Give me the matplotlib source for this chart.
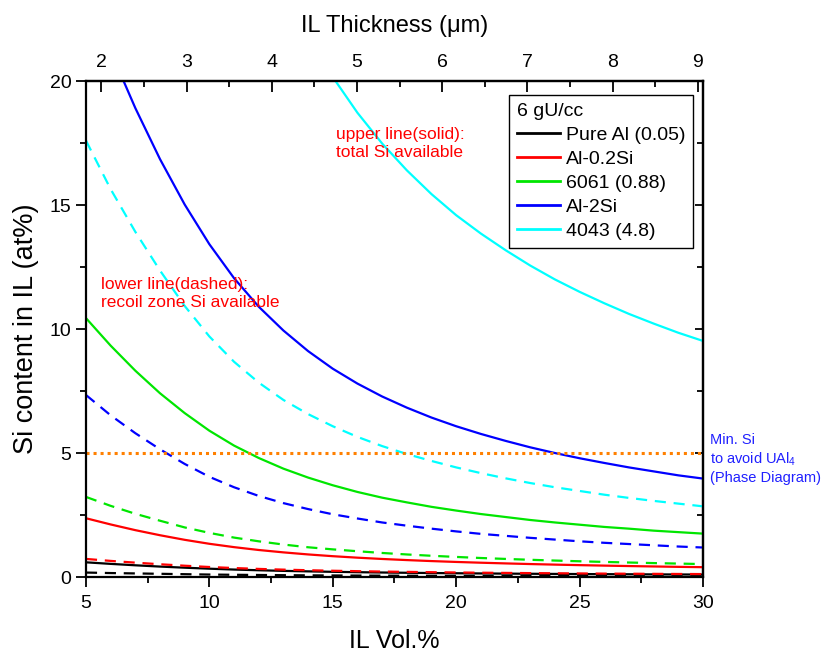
import matplotlib
matplotlib.use("Agg")
import matplotlib.pyplot as plt
from matplotlib.ticker import MultipleLocator

plt.rcParams['font.family'] = ['Liberation Sans', 'DejaVu Sans']
plt.rcParams['mathtext.fontset'] = 'custom'
plt.rcParams['mathtext.rm'] = 'Liberation Sans'
plt.rcParams['mathtext.it'] = 'Liberation Sans:italic'

# IL Vol.% (bottom axis)
vol = [5, 6, 7, 8, 9, 10, 11, 12, 13, 14, 15, 16, 17, 18, 19, 20, 21, 22, 23, 24, 25, 26, 27, 28, 29, 30]

# upper line (solid): total Si available, at%
pure_al_total = [0.593, 0.53, 0.473, 0.421, 0.376, 0.336, 0.301, 0.273, 0.248, 0.228, 0.21, 0.195, 0.182,
                 0.171, 0.161, 0.152, 0.144, 0.137, 0.131, 0.125, 0.12, 0.115, 0.111, 0.106, 0.103, 0.099]
al02si_total = [2.37, 2.12, 1.89, 1.685, 1.50, 1.34, 1.205, 1.09, 0.994, 0.911, 0.84, 0.78, 0.728,
                0.683, 0.643, 0.608, 0.577, 0.549, 0.523, 0.5, 0.479, 0.46, 0.442, 0.426, 0.41, 0.397]
al6061_total = [10.44, 9.33, 8.32, 7.41, 6.61, 5.90, 5.30, 4.80, 4.37, 4.01, 3.70, 3.43, 3.20,
                3.01, 2.83, 2.68, 2.54, 2.42, 2.30, 2.20, 2.11, 2.02, 1.95, 1.87, 1.81, 1.75]
al2si_total = [23.72, 21.2, 18.91, 16.85, 15.02, 13.42, 12.05, 10.9, 9.94, 9.11, 8.4, 7.8, 7.28,
               6.83, 6.43, 6.08, 5.77, 5.49, 5.23, 5.0, 4.79, 4.6, 4.42, 4.26, 4.10, 3.97]
al4043_total = [56.9, 50.9, 45.4, 40.4, 36.1, 32.2, 28.9, 26.2, 23.9, 21.9, 20.16, 18.72, 17.48,
                16.4, 15.44, 14.59, 13.85, 13.18, 12.56, 12.0, 11.5, 11.04, 10.61, 10.22, 9.85, 9.52]

# lower line (dashed): recoil zone Si available, at%
pure_al_recoil = [0.18, 0.16, 0.145, 0.13, 0.114, 0.10, 0.09, 0.082, 0.074, 0.068, 0.063, 0.059, 0.055,
                  0.052, 0.049, 0.046, 0.044, 0.042, 0.04, 0.038, 0.036, 0.035, 0.033, 0.032, 0.031, 0.03]
al02si_recoil = [0.73, 0.65, 0.58, 0.515, 0.456, 0.404, 0.362, 0.327, 0.298, 0.274, 0.253, 0.236, 0.22,
                 0.207, 0.195, 0.184, 0.174, 0.166, 0.158, 0.151, 0.144, 0.138, 0.133, 0.128, 0.123, 0.119]
al6061_recoil = [3.23, 2.87, 2.55, 2.27, 2.00, 1.78, 1.59, 1.44, 1.31, 1.20, 1.115, 1.04, 0.97,
                 0.91, 0.857, 0.81, 0.767, 0.73, 0.695, 0.664, 0.635, 0.609, 0.585, 0.562, 0.542, 0.522]
al2si_recoil = [7.34, 6.52, 5.80, 5.15, 4.56, 4.04, 3.62, 3.27, 2.98, 2.74, 2.53, 2.36, 2.20,
                2.07, 1.95, 1.84, 1.74, 1.66, 1.58, 1.51, 1.44, 1.38, 1.33, 1.28, 1.23, 1.19]
al4043_recoil = [17.6, 15.64, 13.92, 12.36, 10.93, 9.70, 8.68, 7.84, 7.14, 6.57, 6.08, 5.65, 5.28,
                 4.96, 4.68, 4.42, 4.19, 3.98, 3.79, 3.62, 3.47, 3.32, 3.19, 3.07, 2.96, 2.85]

names = ['Pure Al (0.05)', 'Al-0.2Si', '6061 (0.88)', 'Al-2Si', '4043 (4.8)']
colors = ['black', '#ff0000', '#00e600', '#0000ff', '#00ffff']
totals = [pure_al_total, al02si_total, al6061_total, al2si_total, al4043_total]
recoils = [pure_al_recoil, al02si_recoil, al6061_recoil, al2si_recoil, al4043_recoil]

min_si = 5.0  # min. Si to avoid UAl4

# IL thickness (um) at the two ends of the vol.% axis
thick_lo, thick_hi = 1.82, 9.06
thick_ticks = [2, 3, 4, 5, 6, 7, 8, 9]


def vol_to_thick(v):
    return thick_lo + (v - 5) * (thick_hi - thick_lo) / 25.0


def thick_to_vol(t):
    return 5 + (t - thick_lo) * 25.0 / (thick_hi - thick_lo)


fig = plt.figure(figsize=(8.25, 6.54), dpi=100)
ax = fig.add_axes([0.1042, 0.1177, 0.7479, 0.7584])

for tot, rec, c, n in zip(totals, recoils, colors, names):
    ax.plot(vol, tot, color=c, lw=1.6, label=n)
    ax.plot(vol, rec, color=c, lw=1.6, ls=(0, (5, 3.5)))

ax.axhline(min_si, color='#ff8000', lw=2.2, ls=(0, (1, 1.3)))

ax.set_xlim(5, 30)
ax.set_ylim(0, 20)
ax.xaxis.set_major_locator(MultipleLocator(5))
ax.xaxis.set_minor_locator(MultipleLocator(2.5))
ax.yaxis.set_major_locator(MultipleLocator(5))
ax.yaxis.set_minor_locator(MultipleLocator(2.5))
ax.tick_params(which='both', direction='out', width=1.3, labelsize=14, top=False, right=False)
ax.tick_params(axis='x', pad=6)
ax.tick_params(which='major', length=7)
ax.tick_params(which='minor', length=4)
for s in ax.spines.values():
    s.set_linewidth(1.6)

ax.set_xlabel('IL Vol.%', fontsize=18, labelpad=12)
ax.set_ylabel('Si content in IL (at%)', fontsize=19.5, labelpad=8)

# top axis: IL thickness
secx = ax.secondary_xaxis('top', functions=(vol_to_thick, thick_to_vol))
secx.set_xticks(thick_ticks)
secx.xaxis.set_minor_locator(MultipleLocator(0.5))
secx.tick_params(which='both', direction='in', width=1.3, labelsize=14, pad=7)
secx.tick_params(which='major', length=8)
secx.tick_params(which='minor', length=4)
secx.spines['top'].set_linewidth(1.6)
secx.set_xlabel('IL Thickness (μm)', fontsize=17, labelpad=16)

# right axis: inward ticks only
secy = ax.secondary_yaxis('right')
secy.yaxis.set_major_locator(MultipleLocator(5))
secy.yaxis.set_minor_locator(MultipleLocator(2.5))
secy.tick_params(which='both', direction='in', width=1.3, labelright=False)
secy.tick_params(which='major', length=6)
secy.tick_params(which='minor', length=4)
secy.spines['right'].set_linewidth(1.6)

leg = ax.legend(title='6 gU/cc', loc='upper right', bbox_to_anchor=(0.984, 0.972),
                borderaxespad=0, fontsize=14, title_fontsize=14, alignment='left',
                handlelength=2.2, handletextpad=0.3, labelspacing=0.33,
                borderpad=0.4, fancybox=False, framealpha=1, edgecolor='black')
leg.get_frame().set_linewidth(1.0)
for line in leg.get_lines():
    line.set_linewidth(2)

ax.text(15.13, 18.15, 'upper line(solid):\ntotal Si available', color='#ff0000',
        fontsize=12.5, ha='left', va='top', linespacing=1.25)
ax.text(5.61, 12.1, 'lower line(dashed):\nrecoil zone Si available', color='#ff0000',
        fontsize=12.5, ha='left', va='top', linespacing=1.25)
ax.text(30.28, 5.82, 'Min. Si\nto avoid UAl$_4$\n(Phase Diagram)', color='#2020ff',
        fontsize=10.5, ha='left', va='top', linespacing=1.3, clip_on=False)

fig.savefig('out.png', dpi=100)
